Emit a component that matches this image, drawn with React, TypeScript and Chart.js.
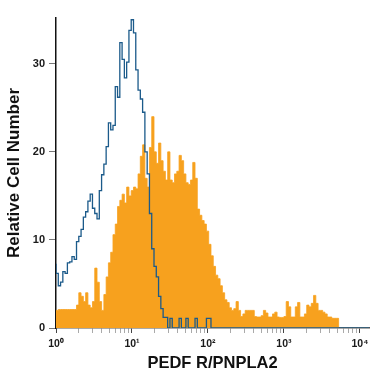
import React, { useEffect, useRef } from "react";
import { Chart, registerables } from "chart.js";

Chart.register(...registerables);

// Histogram bins (log10 of fluorescence), one value per bin
const BIN_START_LOG = 0;
const BIN_STEP_LOG = 0.03;
const X_MIN = 1;
const X_MAX_LOG = 4.12;
const Y_MAX = 35.2;
const Y_TICKS = [0, 10, 20, 30];
const X_DECADES = [1, 10, 100, 1000, 10000];
const X_DECADE_LABELS = ["10\u2070", "10\u00B9", "10\u00B2", "10\u00B3", "10\u2074"];
const X_TITLE = "PEDF R/PNPLA2";
const Y_TITLE = "Relative Cell Number";

// Isotype control (blue outline)
const controlCounts = [
  7.3, 6.2, 4.8, 5.2, 6.4, 6.2, 7.4, 7.5, 8.1, 7.8,
  9.8, 10.4, 11.2, 12.6, 13.2, 14.4, 15.2, 13.6, 13.0, 12.4,
  15.6, 17.4, 18.6, 20.6, 23.3, 22.5, 23.0, 27.4, 26.2, 32.4,
  30.5, 28.4, 30.2, 33.8, 35.0, 33.5, 29.3, 27.0, 26.0, 24.5,
  20.0, 17.5, 13.0, 9.0, 7.0, 5.8, 3.6, 2.2, 1.2, 1.2,
  0, 1.1, 0, 0, 0, 1.1, 0, 0, 1.1, 0,
  0, 0, 1.1, 0, 0, 0, 0, 1.1, 1.1, 0,
  0, 0, 0, 0, 0, 0, 0, 0, 0, 0,
  0, 0, 0, 0, 0, 0, 0, 0, 0, 0,
  0, 0, 0, 0, 0, 0, 0, 0, 0, 0,
  0, 0, 0, 0, 0, 0, 0, 0, 0, 0,
  0, 0, 0, 0, 0, 0, 0, 0, 0, 0,
  0, 0, 0, 0, 0, 0, 0, 0, 0, 0,
  0, 0, 0, 0, 0, 0, 0, 0,
];

// PEDF R/PNPLA2 stained cells (orange filled)
const sampleCounts = [
  1.3, 2.0, 2.1, 2.1, 2.1, 2.1, 2.1, 2.1, 2.1, 2.1,
  2.6, 4.0, 3.6, 3.0, 4.0, 2.6, 2.3, 3.0, 6.8, 5.2,
  3.0, 2.0, 3.8, 5.8, 7.4, 8.6, 10.6, 11.8, 13.8, 14.5,
  15.2, 14.2, 16.0, 15.0, 15.6, 16.0, 15.8, 17.5, 19.5, 20.8,
  17.0, 16.0, 20.5, 24.0, 20.0, 18.7, 21.0, 19.0, 17.8, 16.8,
  20.0, 16.8, 16.5, 17.5, 17.8, 19.6, 19.0, 17.5, 16.5, 16.3,
  16.8, 18.8, 17.0, 13.5, 12.8, 12.2, 11.8, 11.0, 9.5, 8.2,
  7.0, 6.0, 5.6, 4.8, 4.0, 3.2, 2.9, 2.3, 2.0, 2.2,
  3.0, 2.0, 1.3, 1.6, 2.0, 2.0, 2.0, 2.0, 1.3, 1.25,
  1.25, 1.4, 2.0, 1.7, 1.25, 1.25, 1.6, 1.8, 1.25, 1.2,
  1.2, 1.3, 3.0, 2.4, 1.25, 1.25, 2.4, 2.9, 1.25, 1.25,
  1.6, 2.6, 2.4, 2.8, 3.7, 2.8, 2.0, 2.0, 1.8, 1.6,
  1.25, 1.25, 1.1, 1.1, 1.1, 0, 0, 0, 0, 0,
  0, 0, 0, 0, 0, 0, 0, 0,
];

const FONT = "'Liberation Sans', Arial, Helvetica, sans-serif";

function toSteps(counts: number[]) {
  const pts = counts.map((c, i) => ({ x: Math.pow(10, BIN_START_LOG + i * BIN_STEP_LOG), y: c }));
  pts.push({ x: Math.pow(10, BIN_START_LOG + counts.length * BIN_STEP_LOG), y: 0 });
  return pts;
}

export default function App() {
  const ref = useRef<HTMLCanvasElement | null>(null);

  useEffect(() => {
    if (!ref.current) return;
    const xMax = Math.pow(10, X_MAX_LOG);
    const xTicks: { value: number; major: boolean }[] = [];
    for (const d of X_DECADES) {
      for (let m = 1; m <= 9; m++) {
        const v = d * m;
        if (v <= xMax) xTicks.push({ value: v, major: m === 1 });
      }
    }
    const chart = new Chart(ref.current, {
      type: "line",
      data: {
        datasets: [
          {
            label: "control",
            data: toSteps(controlCounts),
            stepped: "after",
            borderColor: "#1b5a8a",
            borderWidth: 1.3,
            pointRadius: 0,
            fill: false,
            order: 0,
          },
          {
            label: "sample",
            data: toSteps(sampleCounts),
            stepped: "after",
            borderColor: "#f7a11e",
            backgroundColor: "#f7a11e",
            borderWidth: 0.8,
            pointRadius: 0,
            fill: "origin",
            order: 1,
          },
        ],
      } as any,
      options: {
        animation: false,
        responsive: false,
        maintainAspectRatio: false,
        devicePixelRatio: 1,
        layout: { padding: { top: 18, right: 6, left: 0, bottom: 0 } },
        plugins: { legend: { display: false }, tooltip: { enabled: false } },
        scales: {
          x: {
            type: "logarithmic",
            min: X_MIN,
            max: xMax,
            afterBuildTicks: (scale: any) => {
              scale.ticks = xTicks.map((t) => ({ value: t.value, major: t.major }));
            },
            afterFit: (scale: any) => {
              scale.height = 47;
            },
            ticks: {
              autoSkip: false,
              maxRotation: 0,
              padding: 5,
              color: "#1a1a1a",
              font: { family: FONT, size: 10.5, weight: "bold" },
              callback: (v: any) => {
                const idx = X_DECADES.indexOf(Number(v));
                return idx >= 0 ? X_DECADE_LABELS[idx] : "";
              },
            },
            grid: {
              drawOnChartArea: false,
              drawTicks: true,
              tickLength: 5,
              color: (ctx: any) =>
                ctx.tick && X_DECADES.indexOf(ctx.tick.value) >= 0 ? "#444" : "#aaa",
            },
            border: { color: "#555", width: 1.5 },
            title: {
              display: true,
              text: X_TITLE,
              color: "#111",
              font: { family: FONT, size: 16.5, weight: "bold" },
              padding: { top: 0, bottom: 2 },
            },
          },
          y: {
            min: 0,
            max: Y_MAX,
            afterBuildTicks: (scale: any) => {
              scale.ticks = Y_TICKS.map((v) => ({ value: v }));
            },
            afterFit: (scale: any) => {
              scale.width = 56;
            },
            ticks: {
              padding: 4,
              color: "#1a1a1a",
              font: { family: FONT, size: 11, weight: "bold" },
            },
            grid: {
              drawOnChartArea: false,
              drawTicks: true,
              tickLength: 7,
              color: "#777",
            },
            border: { color: "#111", width: 1.5 },
            title: {
              display: true,
              text: Y_TITLE,
              color: "#111",
              font: { family: FONT, size: 17, weight: "bold" },
              padding: { top: 4, bottom: 0 },
            },
          },
        },
      } as any,
    });
    return () => chart.destroy();
  }, []);

  return (
    <div style={{ position: "absolute", left: 0, top: 0, width: 375, height: 375, background: "#fff" }}>
      <canvas ref={ref} width={375} height={375} style={{ width: 375, height: 375, display: "block" }} />
    </div>
  );
}
